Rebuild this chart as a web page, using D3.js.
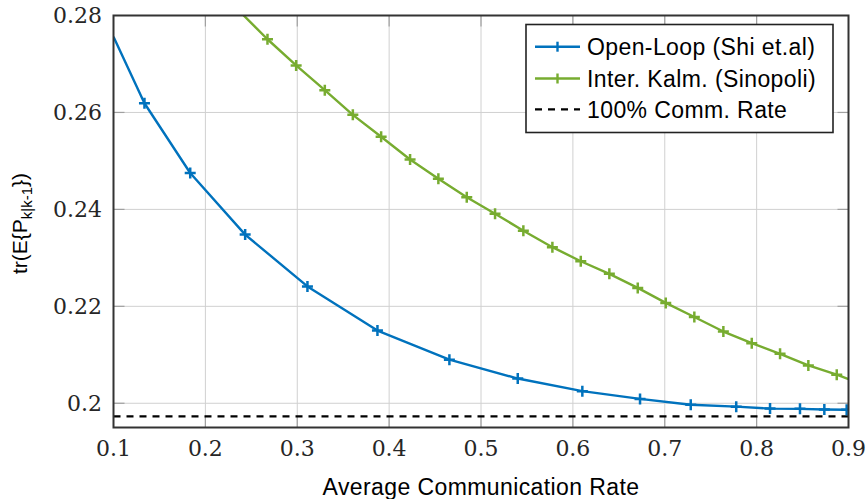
<!DOCTYPE html>
<html>
<head>
<meta charset="utf-8">
<script src="https://cdn.jsdelivr.net/npm/d3@7"></script>
<style>
  html, body { margin: 0; padding: 0; background: #fff; }
  svg { display: block; }
</style>
</head>
<body>
<svg id="chart" width="867" height="499"></svg>
<script>
// Open-loop estimator (Shi et al.)
const openLoopX = [0.1, 0.1337, 0.1835, 0.2433, 0.3111, 0.3873, 0.4656, 0.5400, 0.6103, 0.6731,
                   0.7283, 0.7778, 0.8146, 0.8472, 0.8737, 0.8980, 0.9];
const openLoopY = [0.2756, 0.2619, 0.2475, 0.2348, 0.2241, 0.2150, 0.2090, 0.2051, 0.2025, 0.2009,
                   0.1997, 0.1993, 0.1989, 0.19885, 0.1987, 0.19865, 0.19864];

// Intermittent Kalman filter (Sinopoli)
const kalmanX = [0.2365, 0.2676, 0.2988, 0.3300, 0.3605, 0.3913, 0.4228, 0.4536, 0.4845, 0.5153,
                 0.5461, 0.5777, 0.6086, 0.6397, 0.6706, 0.7011, 0.7322, 0.7638, 0.7947, 0.8255,
                 0.8563, 0.8872, 0.9];
const kalmanY = [0.2810, 0.2751, 0.2697, 0.2646, 0.2595, 0.2550, 0.2503, 0.2463, 0.2425, 0.2391,
                 0.2356, 0.2322, 0.2293, 0.2267, 0.2238, 0.2207, 0.2178, 0.2148, 0.2124, 0.2102,
                 0.2078, 0.2059, 0.2050];

// Full-rate reference level
const fullRateY = 0.1973;

const xTicks = [0.1, 0.2, 0.3, 0.4, 0.5, 0.6, 0.7, 0.8, 0.9];
const yTicks = [0.20, 0.22, 0.24, 0.26, 0.28];
const yTickLabels = ["0.2", "0.22", "0.24", "0.26", "0.28"];

const legendLabels = ["Open-Loop (Shi et.al)", "Inter. Kalm. (Sinopoli)", "100% Comm. Rate"];
const seriesColors = ["#0072BD", "#77AC30", "#000000"];

const svg = d3.select("#chart");
const margin = { left: 113.5, right: 867 - 848.5, top: 15.5, bottom: 499 - 427.5 };
const W = 867 - margin.left - margin.right;
const H = 499 - margin.top - margin.bottom;

const x = d3.scaleLinear().domain([0.1, 0.9]).range([margin.left, margin.left + W]);
const y = d3.scaleLinear().domain([0.195, 0.28]).range([margin.top + H, margin.top]);

svg.append("defs").append("clipPath").attr("id", "plot-clip")
  .append("rect").attr("x", margin.left).attr("y", margin.top).attr("width", W).attr("height", H);

// Grid
const grid = svg.append("g");
grid.selectAll("line.gx").data(xTicks.slice(1, -1)).join("line")
  .attr("x1", d => x(d)).attr("x2", d => x(d))
  .attr("y1", margin.top).attr("y2", margin.top + H)
  .attr("stroke", "#d0d0d0").attr("stroke-width", 1);
grid.selectAll("line.gy").data(yTicks.slice(0, -1)).join("line")
  .attr("x1", margin.left).attr("x2", margin.left + W)
  .attr("y1", d => y(d)).attr("y2", d => y(d))
  .attr("stroke", "#d0d0d0").attr("stroke-width", 1);

// Inner tick marks
const tickLen = 11;
const ticks = svg.append("g").attr("stroke", "#a0a0a0").attr("stroke-width", 1.2);
yTicks.slice(0, -1).forEach(v => {
  ticks.append("line").attr("x1", margin.left).attr("x2", margin.left + tickLen).attr("y1", y(v)).attr("y2", y(v));
  ticks.append("line").attr("x1", margin.left + W - tickLen).attr("x2", margin.left + W).attr("y1", y(v)).attr("y2", y(v));
});
xTicks.slice(1, -1).forEach(v => {
  ticks.append("line").attr("x1", x(v)).attr("x2", x(v)).attr("y1", margin.top).attr("y2", margin.top + tickLen);
  ticks.append("line").attr("x1", x(v)).attr("x2", x(v)).attr("y1", margin.top + H - tickLen).attr("y2", margin.top + H);
});

const plot = svg.append("g").attr("clip-path", "url(#plot-clip)");

// 100% communication rate level
plot.append("line")
  .attr("x1", x(0.1)).attr("x2", x(0.9))
  .attr("y1", y(fullRateY)).attr("y2", y(fullRateY))
  .attr("stroke", "#000").attr("stroke-width", 2.2).attr("stroke-dasharray", "7,6");

const line = d3.line().x(d => x(d[0])).y(d => y(d[1]));

function drawSeries(xs, ys, color) {
  const pts = xs.map((v, i) => [v, ys[i]]);
  plot.append("path").datum(pts)
    .attr("fill", "none").attr("stroke", color).attr("stroke-width", 2.4)
    .attr("stroke-linejoin", "round")
    .attr("d", line);
  const m = 5.5;
  const marks = plot.append("g").attr("stroke", color).attr("stroke-width", 2.5);
  pts.slice(1, -1).forEach(p => {
    const cx = x(p[0]), cy = y(p[1]);
    marks.append("line").attr("x1", cx - m).attr("x2", cx + m).attr("y1", cy).attr("y2", cy);
    marks.append("line").attr("x1", cx).attr("x2", cx).attr("y1", cy - m).attr("y2", cy + m);
  });
}
drawSeries(openLoopX, openLoopY, seriesColors[0]);
drawSeries(kalmanX, kalmanY, seriesColors[1]);

// Axis frame
svg.append("rect")
  .attr("x", margin.left).attr("y", margin.top).attr("width", W).attr("height", H)
  .attr("fill", "none").attr("stroke", "#333").attr("stroke-width", 2);

// Tick labels
const tickFont = "'DejaVu Serif', serif";
svg.append("g").selectAll("text").data(xTicks).join("text")
  .attr("x", d => x(d)).attr("y", 456)
  .attr("text-anchor", "middle")
  .attr("font-family", tickFont).attr("font-size", 22).attr("fill", "#262626")
  .text(d => d3.format(".1f")(d));
svg.append("g").selectAll("text").data(yTicks).join("text")
  .attr("x", 102).attr("y", d => y(d)).attr("dy", "0.36em")
  .attr("text-anchor", "end")
  .attr("font-family", tickFont).attr("font-size", 22).attr("fill", "#262626")
  .text((d, i) => yTickLabels[i]);

// Axis titles
const labelFont = "'Liberation Sans', Arial, sans-serif";
svg.append("text")
  .attr("x", x(0.5)).attr("y", 495)
  .attr("text-anchor", "middle")
  .attr("font-family", labelFont).attr("font-size", 23).attr("letter-spacing", 0.4).attr("fill", "#000")
  .text("Average Communication Rate");

const yl = svg.append("text")
  .attr("transform", `translate(27, ${margin.top + H / 2 + 2}) rotate(-90)`)
  .attr("text-anchor", "middle")
  .attr("font-family", labelFont).attr("font-size", 21).attr("fill", "#000");
yl.append("tspan").text("tr(E{P");
yl.append("tspan").attr("font-size", 15).attr("dy", 5).text("k|k-1");
yl.append("tspan").attr("dy", -5).text("})");

// Legend
const lg = svg.append("g");
lg.append("rect")
  .attr("x", 526).attr("y", 24.5).attr("width", 307).attr("height", 108)
  .attr("fill", "#fff").attr("stroke", "#222").attr("stroke-width", 1.6);
const rowsY = [46.7, 78.5, 109.3];
legendLabels.forEach((lab, i) => {
  const ry = rowsY[i];
  const sample = lg.append("g").attr("stroke", seriesColors[i]).attr("stroke-width", 2.4);
  if (i < 2) {
    sample.append("line").attr("x1", 535).attr("x2", 580).attr("y1", ry).attr("y2", ry);
    sample.append("line").attr("x1", 557.5).attr("x2", 557.5).attr("y1", ry - 5).attr("y2", ry + 5);
  } else {
    sample.append("line").attr("x1", 535).attr("x2", 580).attr("y1", ry).attr("y2", ry)
      .attr("stroke-dasharray", "7,6").attr("stroke-width", 2.2);
  }
  lg.append("text")
    .attr("x", 587).attr("y", ry).attr("dy", "0.36em")
    .attr("font-family", labelFont).attr("font-size", 23).attr("letter-spacing", 0.4).attr("fill", "#000")
    .text(lab);
});
</script>
</body>
</html>
